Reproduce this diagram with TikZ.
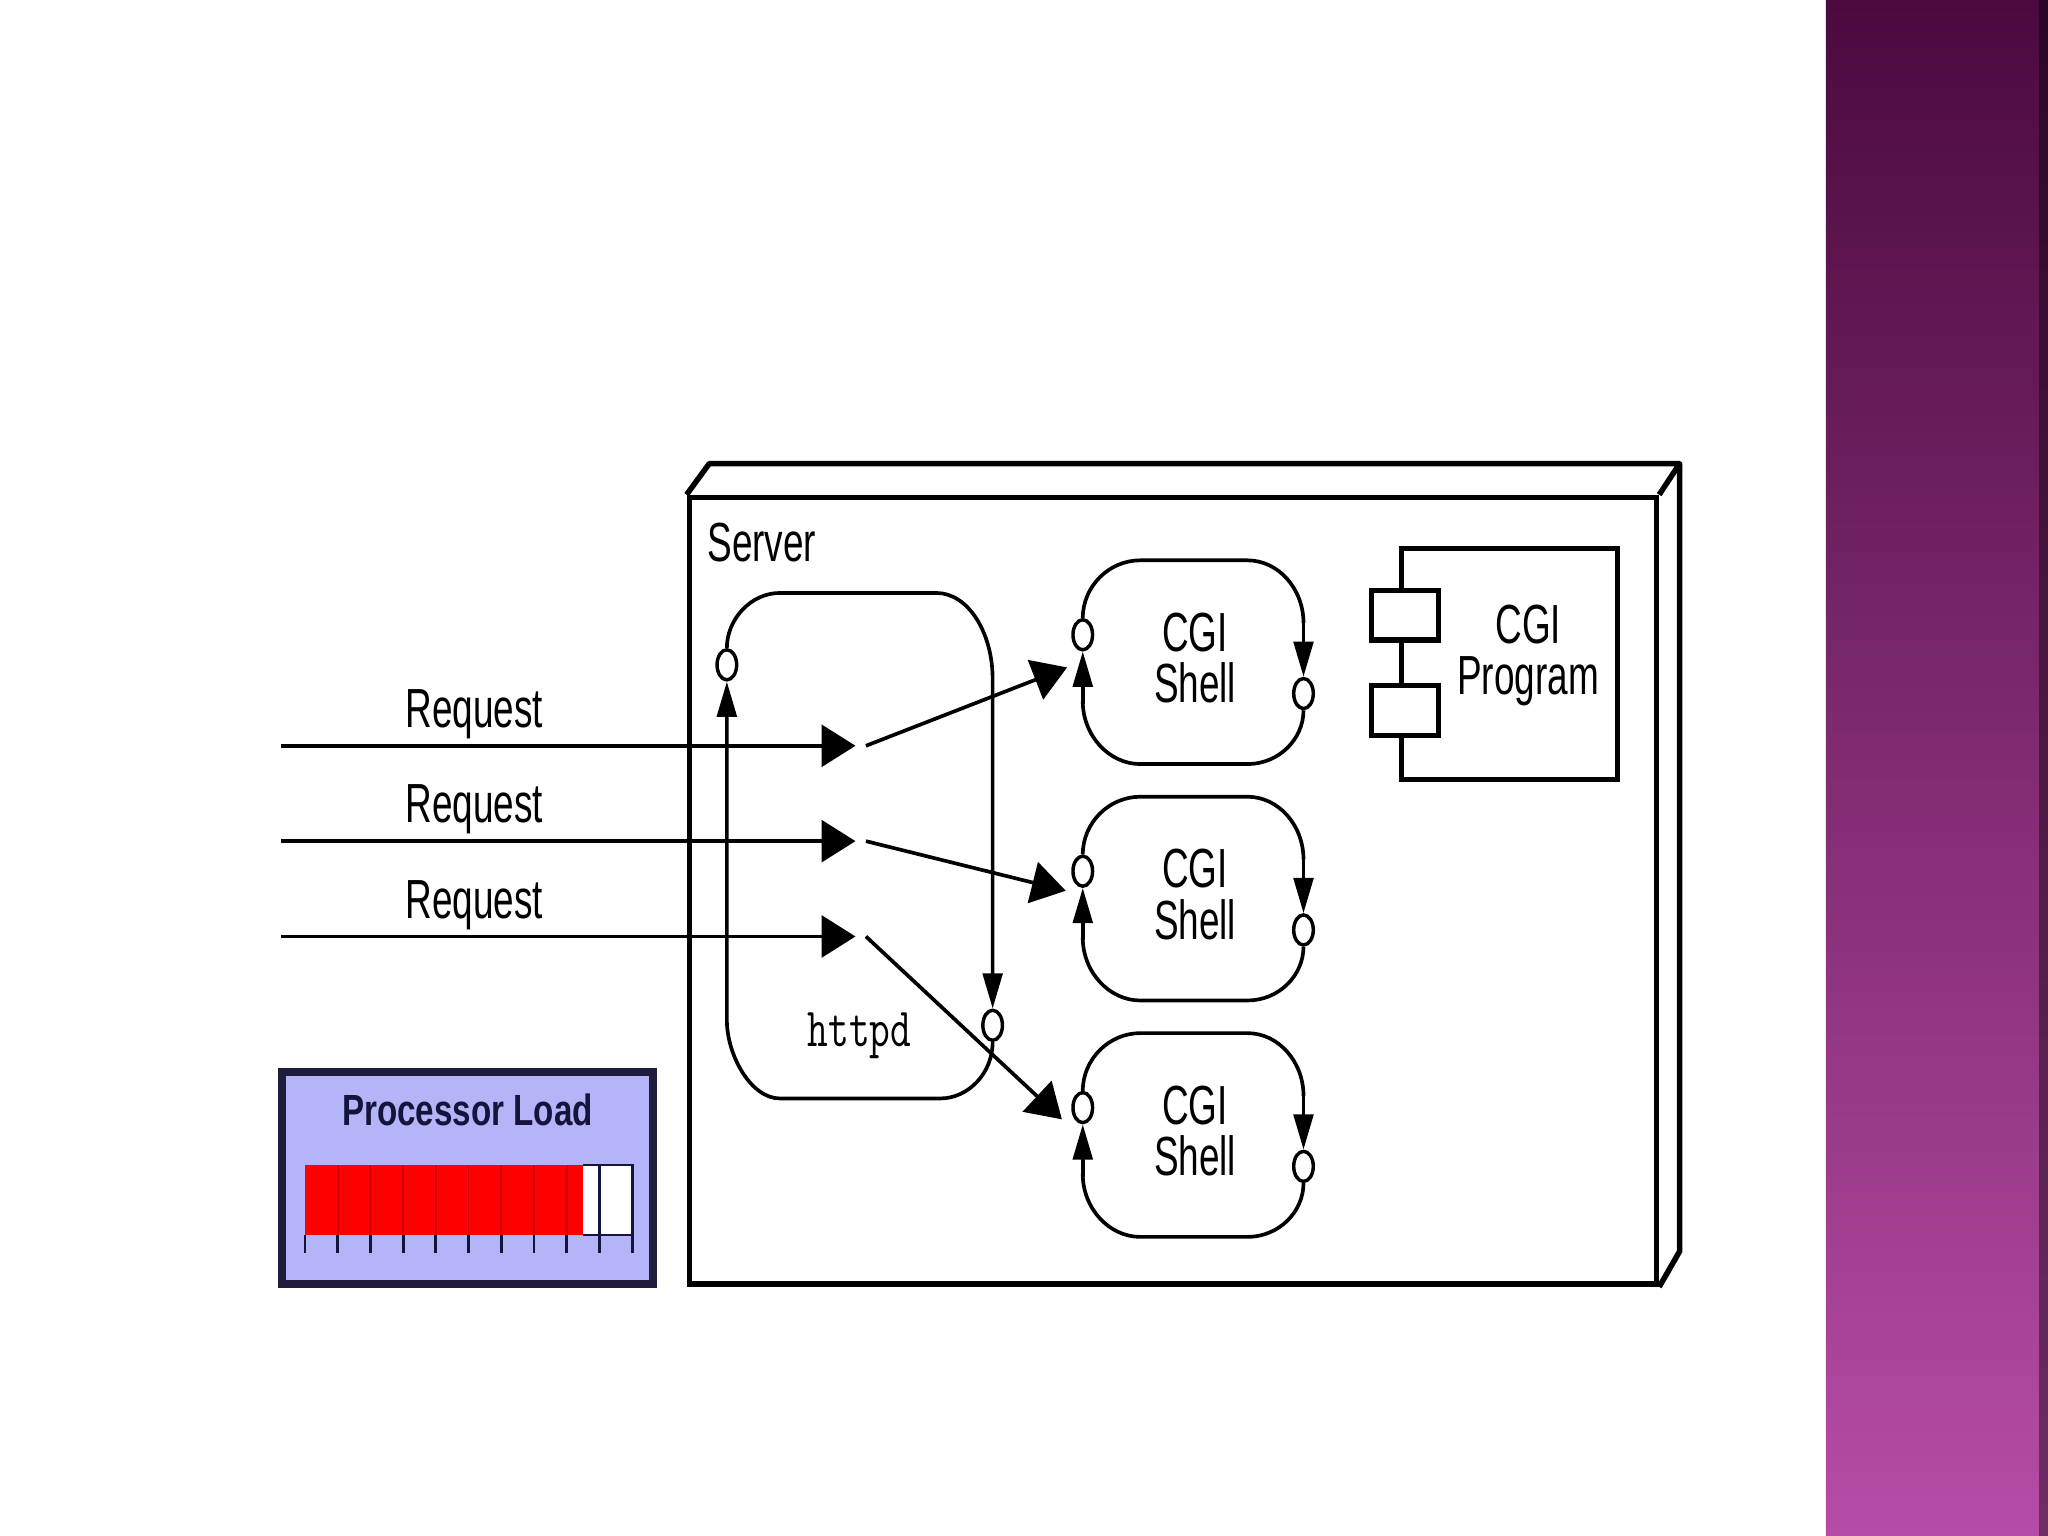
\documentclass[tikz,border=0pt]{standalone}
\usepackage{fontspec}
\usepackage{graphicx}
\usetikzlibrary{arrows.meta,shapes.geometric}
\newfontfamily\condsans[FakeStretch=0.67]{Liberation Sans}
\newfontfamily\plsans[FakeStretch=0.76]{Liberation Sans}
\newcommand\cgifont{\condsans\fontsize{12}{11.2}\selectfont}
\newcommand\httpdfont{\ttfamily\fontsize{12}{13}\selectfont}
\definecolor{bandtop}{HTML}{4A0A3E}
\definecolor{bandmid}{HTML}{8A3679}
\definecolor{bandbot}{HTML}{B74CA6}
\definecolor{plfill}{HTML}{B4B4F8}
\definecolor{plborder}{HTML}{1E1E3C}
\definecolor{navy}{HTML}{14143C}
\begin{document}
\begin{tikzpicture}[x=0.01cm,y=-0.01cm,
  wire/.style={line width=0.8pt, black},
  port/.style={ellipse, draw, fill=white, inner sep=0pt, minimum width=0.15cm, minimum height=0.23cm, line width=0.75pt},
  looparrow/.style={-{Triangle[length=0.27cm,width=0.15cm]}},
  bigarrow/.style={-{Triangle[length=0.26cm,width=0.32cm]}},
  comp/.style={draw, line width=1.1pt, inner sep=0pt},
  lbl/.style={font=\cgifont, align=center, inner sep=0pt}
]
\useasboundingbox (0,0) rectangle (1568,1176);
\fill[white] (0,0) rectangle (1568,1176);
% purple band
\shade[top color=bandtop, middle color=bandmid, bottom color=bandbot] (1398,0) rectangle (1568,1176);
\fill[black, opacity=0.4] (1561,0) rectangle (1568,1176);

% server node
\node[draw, line width=1.2pt, minimum width=7.4cm, minimum height=6.02cm, inner sep=0pt] (server) at (898,682) {};
\draw[line width=1.2pt, line join=round] (server.north west) -- (543,355) -- (1286,355) -- (server.north east);
\draw[line width=1.2pt, line join=round] (1286,355) -- (1286,958) -- (server.south east);
\node[anchor=base west, font=\cgifont, inner sep=0pt] (serverlabel) at (541,430) {Server};

% httpd
\node[port] (hL) at (556.5,509) {};
\node[port] (hR) at (760,785) {};
\draw[wire, looparrow] (hL.north) .. controls (556.5,474) and (575,454) .. (597,454) -- (717,454) .. controls (741,454) and (760,484) .. (760,520) -- (hR.north);
\draw[wire, looparrow] (hR.south) .. controls (760,822) and (741,841) .. (720,841) -- (597,841) .. controls (575,841) and (556.5,808) .. (556.5,781) -- (hL.south);
\node[anchor=base, font=\httpdfont, inner sep=0pt] (httpd) at (658,801) {\scalebox{0.73}[1]{httpd}};

% CGI shells
\foreach \i/\y in {1/429,2/610,3/791}{
  \node[port] (sL\i) at (829,{\y+57}) {};
  \node[port] (sR\i) at (998,{\y+102}) {};
  \draw[wire] (sL\i.north) .. controls (829,{\y+20}) and (849,\y) .. (873,\y) -- (955,\y) .. controls (979,\y) and (998,{\y+22}) .. (998,{\y+48});
  \draw[wire, looparrow] (998,{\y+46}) -- (sR\i.north);
  \draw[wire] (sR\i.south) .. controls (998,{\y+137}) and (979,{\y+156}) .. (955,{\y+156}) -- (873,{\y+156}) .. controls (849,{\y+156}) and (829,{\y+134}) .. (829,{\y+108});
  \draw[wire, looparrow] (829,{\y+110}) -- (sL\i.south);
  \node[lbl] (shell\i) at (915,{\y+75}) {CGI\\Shell};
}

% CGI program component
\node[comp, minimum width=1.65cm, minimum height=1.77cm] (prog) at (1155.5,508.5) {};
\node[comp, fill=white, minimum width=0.51cm, minimum height=0.38cm] (pc1) at (1075.5,471) {};
\node[comp, fill=white, minimum width=0.51cm, minimum height=0.38cm] (pc2) at (1075.5,544) {};
\node[lbl] (progtext) at (1170,502) {CGI\\Program};

% requests
\foreach \i/\yy in {1/571,2/644,3/717}{
  \coordinate (src\i) at (215,\yy);
  \coordinate (rq\i) at (655,\yy);
  \coordinate (ds\i) at (663,\yy);
  \draw[wire, bigarrow] (src\i) -- (rq\i);
  \node[anchor=base, font=\cgifont, inner sep=0pt] (rqlabel\i) at (363,{\yy-14}) {Request};
}
\coordinate (dt1) at (817,511);
\coordinate (dt2) at (816,682);
\coordinate (dt3) at (813,857);
\draw[wire, bigarrow] (ds1) -- (dt1);
\draw[wire, bigarrow] (ds2) -- (dt2);
\draw[wire, bigarrow] (ds3) -- (dt3);

% processor load
\node[draw=plborder, fill=plfill, line width=1.7pt, minimum width=2.84cm, minimum height=1.62cm, inner sep=0pt] (pl) at (358,902) {};
\node[anchor=base, font=\plsans\bfseries\fontsize{9.5}{11}\selectfont, text=navy, inner sep=0pt] (pltitle) at (358,862) {Processor Load};
\fill[red] (233.5,892) rectangle (446.4,945.5);
\fill[white] (446.4,892) rectangle (484,945.5);
\foreach \k in {1,...,8}{
  \draw[red!80!black, line width=0.4pt] ({233.5+25.05*\k},892) -- ++(0,53.5);
}
\draw[navy, line width=0.6pt] (446.4,892) -- (484,892) -- (484,945.5) -- (446.4,945.5);
\draw[navy, line width=0.6pt] (458.9,892) -- (458.9,945.5);
\foreach \k in {0,...,10}{
  \draw[navy, line width=0.6pt] ({233.5+25.05*\k},945.5) -- ++(0,13.5);
}
\end{tikzpicture}
\end{document}
